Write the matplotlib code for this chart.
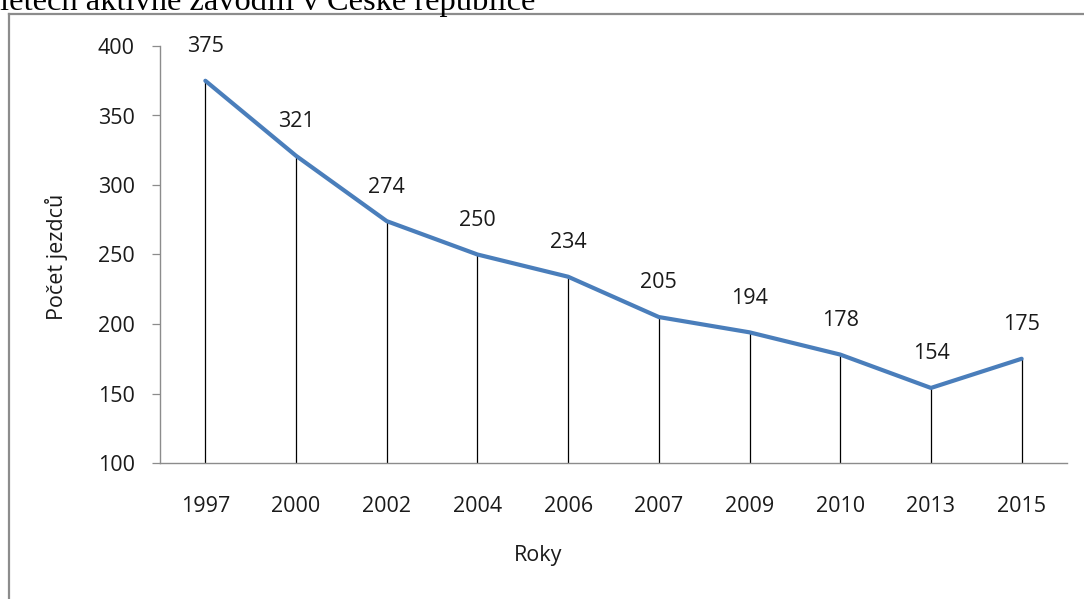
import matplotlib
matplotlib.use("Agg")
import matplotlib.pyplot as plt
from matplotlib.lines import Line2D

years = ["1997", "2000", "2002", "2004", "2006", "2007", "2009", "2010", "2013", "2015"]
riders = [375, 321, 274, 250, 234, 205, 194, 178, 154, 175]
y_ticks = [100, 150, 200, 250, 300, 350, 400]

W, H = 1084, 599
fig = plt.figure(figsize=(W / 100, H / 100), dpi=100)
plt.rcParams['font.family'] = ['Open Sans', 'DejaVu Sans']
FS = 15.5
TXT = '#1a1a1a'

# frame of the embedded chart
fig.add_artist(Line2D([9 / W, 9 / W], [0, 1 - 14 / H], color='#8c8c8c', lw=1.6, transform=fig.transFigure))
fig.add_artist(Line2D([9 / W, 1], [1 - 14 / H, 1 - 14 / H], color='#8c8c8c', lw=1.6, transform=fig.transFigure))

# cut-off document caption above the chart
fig.text(0.0, 1 - 10 / H, "letech aktivně závodili v České republice", family='Liberation Serif',
         fontsize=23.4, va='baseline', ha='left', color='black')

x0, x1 = 160, 1067
ytop, ybot = 46, 463
ax = fig.add_axes([x0 / W, 1 - ybot / H, (x1 - x0) / W, (ybot - ytop) / H])
ax.set_facecolor('none')

xs = list(range(len(years)))
ax.set_xlim(-0.5, len(years) - 0.5)
ax.set_ylim(100, 400)

ax.vlines(xs, 100, riders, color='black', lw=0.9, zorder=2)
ax.plot(xs, riders, color='#4a7ebb', lw=3.0, solid_capstyle='round', zorder=3)
for x, v in zip(xs, riders):
    ax.annotate(str(v), (x, v), xytext=(0, 17), textcoords='offset points',
                ha='center', va='bottom', fontsize=FS, color=TXT)

ax.set_xticks(xs)
ax.set_xticklabels(years)
ax.set_yticks(y_ticks)
ax.tick_params(axis='x', length=0, pad=24, labelsize=FS, colors=TXT)
ax.tick_params(axis='y', direction='out', length=6, width=0.9, color='#8c8c8c', pad=12,
               labelsize=FS, labelcolor=TXT)
for s in ['top', 'right']:
    ax.spines[s].set_visible(False)
for s in ['left', 'bottom']:
    ax.spines[s].set_color('#8c8c8c')
    ax.spines[s].set_linewidth(1.0)

fig.text(538 / W, 1 - 556 / H, "Roky", fontsize=FS, color=TXT, ha='center', va='center')
fig.text(57 / W, 1 - 257 / H, "Počet jezdců", fontsize=FS, color=TXT, ha='center', va='center',
         rotation=90)

fig.savefig("out.png", dpi=100)
